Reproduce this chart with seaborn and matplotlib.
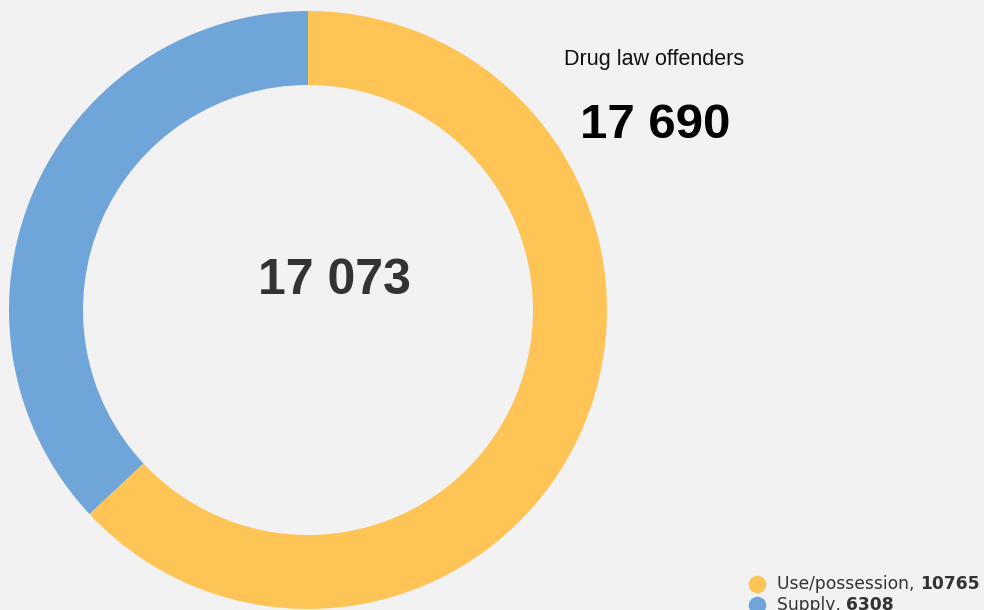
import matplotlib.pyplot as plt
import seaborn as sns

# drug law offences by type
categories = ["Use/possession", "Supply"]
offences = [10765, 6308]
offenders_total = 17690
title = "Drug law offenders"

sns.set_theme(style="white")
plt.rcParams["font.family"] = ["Liberation Sans", "DejaVu Sans"]
colors = sns.color_palette(["#FEC456", "#70A5D9"])
bg = "#F2F2F2"

fig = plt.figure(figsize=(9.84, 6.10), dpi=100, facecolor=bg)
ax = fig.add_axes([0, 0, 1, 1])
ax.set_facecolor(bg)

# donut, clockwise from 12 o'clock
ax.pie(offences, colors=colors, startangle=90, counterclock=False,
       center=(308, -310), radius=299,
       wedgeprops=dict(width=74, linewidth=0))
ax.set_xlim(0, 984)
ax.set_ylim(-610, 0)
ax.set_aspect("equal")
ax.axis("off")

total = sum(offences)
fmt = lambda v: f"{v:,}".replace(",", " ")
ax.text(334, -281, fmt(total), ha="center", va="center",
        fontsize=36, fontweight="bold", color="#333333")

ax.text(654, -59, title, ha="center", va="center", fontsize=15.5, color="#111111")
ax.text(655, -125, fmt(offenders_total), ha="center", va="center",
        fontsize=35.5, fontweight="bold", color="black")

# legend, bottom right (second row is cut by the edge)
for i, (cat, val) in enumerate(zip(categories, offences)):
    y = -584 - 21 * i
    ax.scatter([757], [y], s=160, color=colors[i], linewidths=0, clip_on=False)
    t = ax.text(777, y, f"{cat}, ", ha="left", va="center", fontsize=12.3,
                family="DejaVu Sans", color="#333333")
    ax.annotate(str(val), xy=(1, 0), xycoords=t, va="bottom", ha="left",
                fontsize=12.3, family="DejaVu Sans", fontweight="bold", color="#333333")

fig.savefig("out.png", dpi=100, facecolor=bg)
